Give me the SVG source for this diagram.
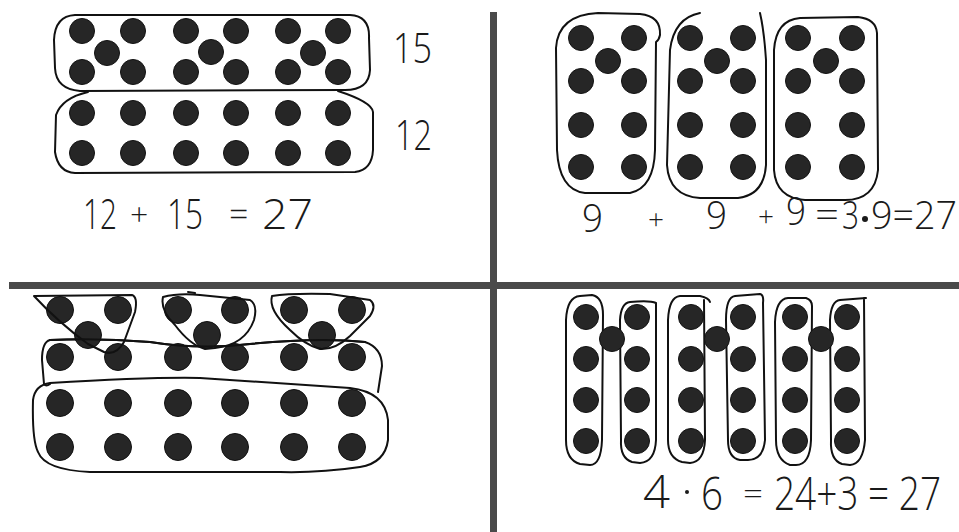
<svg xmlns="http://www.w3.org/2000/svg" width="959" height="532" viewBox="0 0 959 532">
<style>
.d{fill:#262626;stroke:#111;stroke-width:1}
.e{fill:none;stroke:#111;stroke-width:2;stroke-linecap:round;stroke-linejoin:round}
.t{font-family:"Open Sans","Liberation Sans",sans-serif;font-weight:300;fill:#1a1a1a}
.div{fill:#4a4a4a}
</style>
<rect width="959" height="532" fill="#fff"/>
<g id="dividers">
<rect class="div" x="490" y="12" width="7" height="520"/>
<rect class="div" x="9" y="282" width="950" height="7"/>
</g>
<g id="q1-fifteen">
<path class="e" d="M75,15 L350,15 Q370,16 369,38 L370,70 Q369,90 345,90 L80,91 Q56,89 55,68 L54,40 Q55,16 75,15 Z"/>
<g class="d">
<circle cx="82" cy="31" r="12.5"/><circle cx="133" cy="31" r="12.5"/><circle cx="186" cy="31" r="12.5"/><circle cx="236" cy="31" r="12.5"/><circle cx="288" cy="31" r="12.5"/><circle cx="338" cy="31" r="12.5"/>
<circle cx="107" cy="53" r="12.5"/><circle cx="211" cy="52" r="12.5"/><circle cx="313" cy="53" r="12.5"/>
<circle cx="82" cy="72" r="12.5"/><circle cx="133" cy="72" r="12.5"/><circle cx="186" cy="72" r="12.5"/><circle cx="236" cy="72" r="12.5"/><circle cx="288" cy="72" r="12.5"/><circle cx="338" cy="72" r="12.5"/>
</g>
<text class="t" x="393" y="63" font-size="42" textLength="39" lengthAdjust="spacingAndGlyphs">15</text>
</g>
<g id="q1-twelve">
<path class="e" d="M88,92 Q62,98 56,115 L55,152 Q58,172 75,173 L355,172 Q372,170 373,150 L373,112 Q372,102 338,91"/>
<g class="d">
<circle cx="82" cy="113" r="12.5"/><circle cx="133" cy="113" r="12.5"/><circle cx="186" cy="113" r="12.5"/><circle cx="236" cy="113" r="12.5"/><circle cx="288" cy="113" r="12.5"/><circle cx="338" cy="113" r="12.5"/>
<circle cx="82" cy="153" r="12.5"/><circle cx="133" cy="153" r="12.5"/><circle cx="186" cy="153" r="12.5"/><circle cx="236" cy="153" r="12.5"/><circle cx="288" cy="153" r="12.5"/><circle cx="338" cy="153" r="12.5"/>
</g>
<text class="t" x="395" y="150" font-size="42" textLength="37" lengthAdjust="spacingAndGlyphs">12</text>
</g>
<g id="q1-equation" class="t" font-size="42">
<text x="83" y="229" textLength="34" lengthAdjust="spacingAndGlyphs">12</text>
<text x="130" y="226" font-size="32">+</text>
<text x="167" y="229" textLength="36" lengthAdjust="spacingAndGlyphs">15</text>
<text x="229" y="226" font-size="34">=</text>
<text x="262" y="229" textLength="51" lengthAdjust="spacingAndGlyphs">27</text>
</g>
<g id="q2-group1">
<path class="e" d="M598,13 L640,14 Q661,16 660,35 Q659,40 656,42 L655,150 Q654,188 630,193 L585,193 Q559,190 557,150 L556,48 Q558,15 598,13 Z"/>
<g class="d">
<circle cx="581" cy="38" r="12.5"/><circle cx="634" cy="38" r="12.5"/><circle cx="608" cy="61" r="12.5"/>
<circle cx="581" cy="81" r="12.5"/><circle cx="634" cy="81" r="12.5"/>
<circle cx="581" cy="125" r="12.5"/><circle cx="634" cy="125" r="12.5"/>
<circle cx="581" cy="167" r="12.5"/><circle cx="634" cy="167" r="12.5"/>
</g>
</g>
<g id="q2-group2">
<path class="e" d="M700,13 Q674,18 670,50 L667,165 Q669,196 700,198 L738,198 Q764,195 766,165 L766,60 Q764,30 760,13"/>
<g class="d">
<circle cx="690" cy="38" r="12.5"/><circle cx="743" cy="38" r="12.5"/><circle cx="717" cy="61" r="12.5"/>
<circle cx="690" cy="81" r="12.5"/><circle cx="743" cy="81" r="12.5"/>
<circle cx="690" cy="125" r="12.5"/><circle cx="743" cy="125" r="12.5"/>
<circle cx="690" cy="167" r="12.5"/><circle cx="743" cy="167" r="12.5"/>
</g>
</g>
<g id="q2-group3">
<path class="e" d="M800,18 L858,17 Q876,19 877,33 L878,170 Q875,200 845,200 L805,200 Q776,198 774,170 L774,50 Q776,20 800,18 Z"/>
<g class="d">
<circle cx="798" cy="38" r="12.5"/><circle cx="852" cy="38" r="12.5"/><circle cx="826" cy="61" r="12.5"/>
<circle cx="798" cy="81" r="12.5"/><circle cx="852" cy="81" r="12.5"/>
<circle cx="798" cy="125" r="12.5"/><circle cx="852" cy="125" r="12.5"/>
<circle cx="798" cy="167" r="12.5"/><circle cx="852" cy="167" r="12.5"/>
</g>
</g>
<g id="q2-equation" class="t" font-size="38">
<text x="582" y="232" textLength="21" lengthAdjust="spacingAndGlyphs">9</text>
<text x="648" y="229" font-size="28">+</text>
<text x="706" y="229" textLength="21" lengthAdjust="spacingAndGlyphs">9</text>
<text x="758" y="226" font-size="28">+</text>
<text x="786" y="225" textLength="20" lengthAdjust="spacingAndGlyphs">9</text>
<text x="815" y="228" font-size="36" textLength="24" lengthAdjust="spacingAndGlyphs">=</text>
<text x="842" y="229" textLength="17" lengthAdjust="spacingAndGlyphs">3</text>
<circle cx="865" cy="219" r="3" fill="#1a1a1a"/>
<text x="871" y="229" textLength="86" lengthAdjust="spacingAndGlyphs">9=27</text>
</g>
<g id="q3-row-of-six">
<path class="e" d="M50,340 Q100,338 150,342 Q200,350 250,344 Q320,337 365,342 Q382,348 382,366 L378,392"/>
<path class="e" d="M50,340 Q42,342 42,360 L44,384 Q46,387 50,384"/>
</g>
<g id="q3-twelve">
<path class="e" d="M50,383 Q150,377 200,378 Q270,383 350,388 Q385,392 388,420 L388,440 Q385,463 360,467 Q320,473 280,472 L90,472 Q45,470 38,452 Q32,440 33,400 Q35,385 50,383 Z"/>
</g>
<g id="q3-dots" class="d">
<circle cx="60" cy="310" r="13.5"/><circle cx="118" cy="310" r="13.5"/><circle cx="88" cy="335" r="13.5"/>
<circle cx="178" cy="310" r="13.5"/><circle cx="235" cy="310" r="13.5"/><circle cx="207" cy="335" r="13.5"/>
<circle cx="294" cy="310" r="13.5"/><circle cx="352" cy="310" r="13.5"/><circle cx="322" cy="335" r="13.5"/>
<circle cx="60" cy="357" r="13.5"/><circle cx="118" cy="357" r="13.5"/><circle cx="178" cy="357" r="13.5"/><circle cx="235" cy="357" r="13.5"/><circle cx="294" cy="357" r="13.5"/><circle cx="352" cy="357" r="13.5"/>
<circle cx="60" cy="403" r="13.5"/><circle cx="118" cy="403" r="13.5"/><circle cx="178" cy="403" r="13.5"/><circle cx="235" cy="403" r="13.5"/><circle cx="294" cy="403" r="13.5"/><circle cx="352" cy="403" r="13.5"/>
<circle cx="60" cy="447" r="13.5"/><circle cx="118" cy="447" r="13.5"/><circle cx="178" cy="447" r="13.5"/><circle cx="235" cy="447" r="13.5"/><circle cx="294" cy="447" r="13.5"/><circle cx="352" cy="447" r="13.5"/>
</g>
<g id="q3-tri1">
<path class="e" d="M34,296 L132,295 Q138,297 135,312 L124,342 Q116,356 104,352 L88,344 Q58,322 34,296 Z"/>
</g>
<g id="q3-tri2">
<path class="e" d="M163,297 Q178,293 200,295 L250,300 Q258,305 254,320 Q245,345 215,348 L205,349 Q190,345 175,325 Q160,310 163,297 Z"/>
<path class="e" d="M188,292 L195,293"/>
</g>
<g id="q3-tri3">
<path class="e" d="M272,296 Q290,293 330,294 L370,300 Q377,305 370,316 L350,336 Q335,350 320,349 Q305,345 290,330 Q268,310 272,296 Z"/>
</g>
<g id="q3-row-top-edge">
<path class="e" d="M50,340 Q100,338 150,342 Q200,350 250,344 Q320,337 365,342"/>
</g>
<g id="q4-col1">
<path class="e" d="M580,296 L592,295 Q603,297 603,315 L602,440 Q601,465 590,465 L580,464 Q566,460 566,440 L566,320 Q567,297 580,296 Z"/>
</g>
<g id="q4-col2">
<path class="e" d="M630,302 Q650,300 656,303 L656,440 Q655,462 640,463 L632,462 Q620,458 621,440 L620,320 Q621,303 630,302 Z"/>
</g>
<g id="q4-col3">
<path class="e" d="M680,296 L700,296 Q709,298 710,302 M704,300 L705,440 Q704,462 690,463 L682,462 Q668,458 668,440 L668,320 Q669,297 680,296"/>
</g>
<g id="q4-col4">
<path class="e" d="M735,296 L760,294 Q764,295 763,303 L765,440 Q763,460 748,460 L740,460 Q728,458 728,440 L726,320 Q726,297 735,296 Z"/>
</g>
<g id="q4-col5">
<path class="e" d="M788,298 L806,298 Q812,300 812,306 L811,440 Q810,465 796,465 L790,465 Q776,460 776,440 L775,322 Q776,299 788,298 Z"/>
</g>
<g id="q4-col6">
<path class="e" d="M840,300 L866,298 M864,298 L865,440 Q863,464 850,465 L842,464 Q830,460 831,440 L830,320 Q831,301 840,300"/>
</g>
<g id="q4-dots" class="d">
<circle cx="586" cy="317" r="12.5"/><circle cx="637" cy="317" r="12.5"/><circle cx="691" cy="317" r="12.5"/><circle cx="743" cy="317" r="12.5"/><circle cx="795" cy="317" r="12.5"/><circle cx="847" cy="317" r="12.5"/>
<circle cx="612" cy="339" r="12.5"/><circle cx="717" cy="339" r="12.5"/><circle cx="821" cy="339" r="12.5"/>
<circle cx="586" cy="359" r="12.5"/><circle cx="637" cy="359" r="12.5"/><circle cx="691" cy="359" r="12.5"/><circle cx="743" cy="359" r="12.5"/><circle cx="795" cy="359" r="12.5"/><circle cx="847" cy="359" r="12.5"/>
<circle cx="586" cy="400" r="12.5"/><circle cx="637" cy="400" r="12.5"/><circle cx="691" cy="400" r="12.5"/><circle cx="743" cy="400" r="12.5"/><circle cx="795" cy="400" r="12.5"/><circle cx="847" cy="400" r="12.5"/>
<circle cx="586" cy="441" r="12.5"/><circle cx="637" cy="441" r="12.5"/><circle cx="691" cy="441" r="12.5"/><circle cx="743" cy="441" r="12.5"/><circle cx="795" cy="441" r="12.5"/><circle cx="847" cy="441" r="12.5"/>
</g>
<g id="q4-equation" class="t" font-size="46">
<text x="643" y="508" textLength="27" lengthAdjust="spacingAndGlyphs">4</text>
<circle cx="687" cy="492" r="2" fill="#1a1a1a"/>
<text x="701" y="510" textLength="22" lengthAdjust="spacingAndGlyphs">6</text>
<text x="743" y="504" font-size="32" textLength="20" lengthAdjust="spacingAndGlyphs">=</text>
<text transform="translate(774,510) scale(1,1.2)" x="0" y="0" font-size="38" textLength="167" lengthAdjust="spacingAndGlyphs">24+3 = 27</text>
</g>
</svg>
